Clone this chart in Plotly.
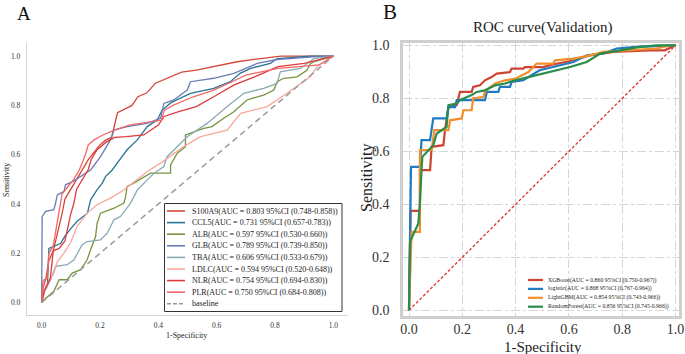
import plotly.graph_objects as go

W, H = 685, 354
SERIF = "Liberation Serif, Times New Roman, serif"

# ---------------- Panel A data ----------------
a_names = ["S100A9(AUC = 0.803 95%CI (0.748-0.858))",
           "CCL5(AUC = 0.731 95%CI (0.657-0.783))",
           "ALB(AUC = 0.597 95%CI (0.530-0.660))",
           "GLB(AUC = 0.789 95%CI (0.739-0.850))",
           "TBA(AUC = 0.606 95%CI (0.533-0.679))",
           "LDLC(AUC = 0.594 95%CI (0.520-0.648))",
           "NLR(AUC = 0.754 95%CI (0.694-0.830))",
           "PLR(AUC = 0.750 95%CI (0.684-0.808))"]
a_colors = ["#d4473a", "#2a7393", "#76943f", "#6a7cb4", "#8aaab3", "#f8a79c", "#e0393e", "#f26767"]

s100a9_fpr = [0, 0.005, 0.015, 0.025, 0.04, 0.05, 0.06, 0.07, 0.08, 0.09, 0.1, 0.12, 0.14, 0.16, 0.18, 0.2, 0.22, 0.24, 0.26, 0.29, 0.31, 0.33, 0.36, 0.39, 0.44, 0.48, 0.53, 0.59, 0.67, 0.75, 0.82, 1]
s100a9_tpr = [0, 0.06, 0.1, 0.17, 0.21, 0.26, 0.3, 0.36, 0.42, 0.44, 0.46, 0.5, 0.54, 0.58, 0.61, 0.64, 0.66, 0.67, 0.77, 0.79, 0.8, 0.835, 0.85, 0.89, 0.915, 0.935, 0.943, 0.957, 0.977, 0.99, 1.0, 1]

ccl5_fpr = [0, 0.01, 0.02, 0.025, 0.065, 0.08, 0.1, 0.122, 0.157, 0.168, 0.19, 0.208, 0.219, 0.242, 0.259, 0.293, 0.328, 0.362, 0.396, 0.413, 0.442, 0.51, 0.59, 0.647, 0.68, 0.716, 0.784, 0.807, 0.92, 1]
ccl5_tpr = [0, 0.05, 0.07, 0.22, 0.24, 0.27, 0.3, 0.33, 0.363, 0.417, 0.457, 0.485, 0.511, 0.538, 0.566, 0.62, 0.66, 0.714, 0.741, 0.78, 0.81, 0.849, 0.869, 0.896, 0.93, 0.95, 0.97, 0.99, 1.0, 1]

alb_fpr = [0, 0.002, 0.042, 0.06, 0.088, 0.105, 0.134, 0.156, 0.168, 0.185, 0.19, 0.202, 0.248, 0.282, 0.288, 0.293, 0.316, 0.373, 0.442, 0.442, 0.465, 0.493, 0.493, 0.556, 0.584, 0.624, 0.659, 0.704, 0.761, 0.796, 0.807, 0.83, 0.876, 0.91, 0.921, 0.94, 1]
alb_tpr = [0, 0.005, 0.046, 0.093, 0.093, 0.12, 0.134, 0.174, 0.215, 0.268, 0.32, 0.363, 0.383, 0.404, 0.43, 0.471, 0.485, 0.525, 0.525, 0.559, 0.606, 0.633, 0.68, 0.707, 0.714, 0.748, 0.774, 0.822, 0.842, 0.862, 0.896, 0.91, 0.916, 0.943, 0.97, 0.98, 1]

glb_fpr = [0, 0.002, 0.014, 0.042, 0.048, 0.054, 0.077, 0.082, 0.105, 0.13, 0.168, 0.202, 0.236, 0.248, 0.293, 0.362, 0.408, 0.419, 0.453, 0.499, 0.51, 0.59, 0.659, 0.739, 0.807, 0.93, 1]
glb_tpr = [0, 0.35, 0.37, 0.377, 0.404, 0.437, 0.451, 0.478, 0.49, 0.51, 0.538, 0.592, 0.66, 0.7, 0.714, 0.727, 0.748, 0.808, 0.822, 0.862, 0.896, 0.91, 0.93, 0.97, 0.986, 0.997, 1]

tba_fpr = [0, 0.008, 0.031, 0.048, 0.088, 0.111, 0.139, 0.156, 0.202, 0.225, 0.248, 0.271, 0.305, 0.328, 0.362, 0.385, 0.419, 0.43, 0.499, 0.567, 0.636, 0.693, 0.761, 0.807, 0.818, 0.887, 0.933, 1]
tba_tpr = [0, 0.04, 0.093, 0.147, 0.154, 0.174, 0.235, 0.248, 0.255, 0.282, 0.336, 0.35, 0.404, 0.457, 0.498, 0.525, 0.552, 0.592, 0.673, 0.727, 0.795, 0.849, 0.869, 0.889, 0.936, 0.95, 0.99, 1]

ldlc_fpr = [0, 0.014, 0.042, 0.054, 0.076, 0.099, 0.122, 0.156, 0.19, 0.236, 0.282, 0.328, 0.362, 0.408, 0.487, 0.545, 0.636, 0.682, 0.773, 0.841, 0.887, 0.921, 0.944, 1]
ldlc_tpr = [0, 0.066, 0.12, 0.167, 0.2, 0.242, 0.309, 0.363, 0.397, 0.424, 0.457, 0.498, 0.532, 0.566, 0.633, 0.673, 0.7, 0.768, 0.795, 0.849, 0.889, 0.916, 0.957, 1]

nlr_fpr = [0, 0.01, 0.03, 0.04, 0.06, 0.08, 0.1, 0.11, 0.12, 0.14, 0.16, 0.17, 0.19, 0.22, 0.25, 0.29, 0.35, 0.4, 0.42, 0.47, 0.53, 0.59, 0.66, 0.73, 0.81, 0.9, 1]
nlr_tpr = [0, 0.05, 0.1, 0.21, 0.22, 0.25, 0.36, 0.4, 0.46, 0.5, 0.54, 0.58, 0.62, 0.65, 0.67, 0.673, 0.68, 0.72, 0.755, 0.775, 0.795, 0.835, 0.883, 0.916, 0.957, 0.97, 1]

plr_fpr = [0, 0.005, 0.02, 0.025, 0.04, 0.05, 0.06, 0.07, 0.09, 0.11, 0.13, 0.15, 0.16, 0.18, 0.21, 0.25, 0.3, 0.36, 0.41, 0.42, 0.45, 0.52, 0.59, 0.66, 0.7, 0.81, 0.95, 1]
plr_tpr = [0, 0.09, 0.1, 0.2, 0.23, 0.3, 0.38, 0.44, 0.47, 0.5, 0.54, 0.6, 0.64, 0.66, 0.68, 0.7, 0.72, 0.73, 0.74, 0.78, 0.8, 0.835, 0.862, 0.9, 0.923, 0.95, 0.964, 1]

a_curves = [(s100a9_fpr, s100a9_tpr), (ccl5_fpr, ccl5_tpr), (alb_fpr, alb_tpr), (glb_fpr, glb_tpr),
            (tba_fpr, tba_tpr), (ldlc_fpr, ldlc_tpr), (nlr_fpr, nlr_tpr), (plr_fpr, plr_tpr)]
baseline_x = [0, 1]
baseline_y = [0, 1]

# ---------------- Panel B data ----------------
b_names = ["XGBoost(AUC = 0.860 95%CI (0.750-0.967))",
           "logistic(AUC = 0.868 95%CI (0.767-0.964))",
           "LightGBM(AUC = 0.854 95%CI (0.743-0.966))",
           "RandomForest(AUC = 0.856 95%CI (0.745-0.966))"]
b_colors = ["#cf4430", "#1f7bc2", "#f0902c", "#2a8c4a"]

xgb_fpr = [0, 0.006, 0.041, 0.041, 0.079, 0.085, 0.129, 0.135, 0.148, 0.179, 0.191, 0.235, 0.241, 0.266, 0.285, 0.31, 0.329, 0.379, 0.385, 0.429, 0.435, 0.504, 0.529, 0.6, 0.679, 0.767, 0.904, 0.96, 1]
xgb_tpr = [0, 0.375, 0.375, 0.529, 0.529, 0.617, 0.623, 0.68, 0.767, 0.774, 0.824, 0.824, 0.843, 0.849, 0.868, 0.88, 0.893, 0.899, 0.912, 0.912, 0.918, 0.918, 0.925, 0.94, 0.962, 0.975, 0.981, 0.981, 1]

log_fpr = [0, 0.0075, 0.041, 0.047, 0.079, 0.091, 0.141, 0.148, 0.173, 0.179, 0.285, 0.292, 0.335, 0.341, 0.379, 0.385, 0.429, 0.45, 0.49, 0.541, 0.617, 0.667, 0.729, 0.779, 0.85, 1]
log_tpr = [0, 0.541, 0.541, 0.642, 0.642, 0.724, 0.724, 0.767, 0.767, 0.793, 0.793, 0.824, 0.824, 0.843, 0.843, 0.862, 0.868, 0.88, 0.906, 0.918, 0.937, 0.962, 0.969, 0.988, 0.994, 1]

lgbm_fpr = [0, 0.01, 0.041, 0.041, 0.085, 0.095, 0.148, 0.154, 0.198, 0.204, 0.235, 0.241, 0.279, 0.285, 0.298, 0.323, 0.36, 0.398, 0.448, 0.479, 0.541, 0.548, 0.617, 0.679, 0.73, 0.829, 0.929, 0.98, 1]
lgbm_tpr = [0, 0.296, 0.296, 0.605, 0.605, 0.68, 0.68, 0.717, 0.724, 0.755, 0.755, 0.8, 0.805, 0.824, 0.837, 0.856, 0.868, 0.874, 0.899, 0.931, 0.931, 0.943, 0.95, 0.962, 0.975, 0.981, 0.988, 1.0, 1]

rf_fpr = [0, 0.004, 0.035, 0.041, 0.047, 0.05, 0.091, 0.104, 0.141, 0.148, 0.179, 0.191, 0.235, 0.254, 0.285, 0.323, 0.36, 0.398, 0.448, 0.529, 0.604, 0.667, 0.717, 0.792, 0.867, 0.929, 1]
rf_tpr = [0, 0.259, 0.328, 0.403, 0.529, 0.579, 0.623, 0.667, 0.692, 0.774, 0.78, 0.793, 0.812, 0.824, 0.83, 0.849, 0.856, 0.868, 0.88, 0.899, 0.918, 0.937, 0.969, 0.981, 0.994, 1.0, 1]

b_curves = [(xgb_fpr, xgb_tpr), (log_fpr, log_tpr), (lgbm_fpr, lgbm_tpr), (rf_fpr, rf_tpr)]

ticks = [0, 0.2, 0.4, 0.6, 0.8, 1.0]
tick_text = ["0.0", "0.2", "0.4", "0.6", "0.8", "1.0"]


def px(x):
    return x / W


def py(y):
    return 1 - y / H


fig = go.Figure()

for (fx, ty), name, col in zip(a_curves, a_names, a_colors):
    fig.add_trace(go.Scatter(x=fx, y=ty, mode="lines", name=name, showlegend=False,
                             line=dict(color=col, width=1.3), xaxis="x", yaxis="y"))
fig.add_trace(go.Scatter(x=baseline_x, y=baseline_y, mode="lines", name="baseline", showlegend=False,
                         line=dict(color="#9a9a9a", width=1.5, dash="6px,4px"), xaxis="x", yaxis="y"))

fig.add_trace(go.Scatter(x=baseline_x, y=baseline_y, mode="lines", showlegend=False,
                         line=dict(color="#e0302c", width=1.3, dash="3px,2px"), xaxis="x2", yaxis="y2"))
for (fx, ty), name, col in zip(b_curves, b_names, b_colors):
    fig.add_trace(go.Scatter(x=fx, y=ty, mode="lines", name=name, showlegend=False,
                             line=dict(color=col, width=2.2), xaxis="x2", yaxis="y2"))

shapes = []
annotations = []

# Legend A (manual, compact rows)
shapes.append(dict(type="rect", xref="paper", yref="paper", x0=px(164.5), x1=px(342), y0=py(311.5), y1=py(203.5),
                   line=dict(color="#333333", width=1), fillcolor="white", layer="above"))
leg_a_names = a_names + ["baseline"]
leg_a_cols = a_colors + ["#9a9a9a"]
for i, (nm, col) in enumerate(zip(leg_a_names, leg_a_cols)):
    yy = 211 + i * 11.6
    shapes.append(dict(type="line", xref="paper", yref="paper", x0=px(167), x1=px(185), y0=py(yy), y1=py(yy),
                       line=dict(color=col, width=1.6, dash="4px,2px" if nm == "baseline" else "solid"),
                       layer="above"))
    annotations.append(dict(text=nm, xref="paper", yref="paper", x=px(190), y=py(yy), xanchor="left",
                            yanchor="middle", showarrow=False, font=dict(family=SERIF, size=8, color="#222")))

# Legend B (manual)
for i, (nm, col) in enumerate(zip(b_names, b_colors)):
    yy = 280 + i * 8.9
    shapes.append(dict(type="line", xref="paper", yref="paper", x0=px(528), x1=px(543), y0=py(yy), y1=py(yy),
                       line=dict(color=col, width=2.2), layer="above"))
    annotations.append(dict(text=nm, xref="paper", yref="paper", x=px(546), y=py(yy), xanchor="left",
                            yanchor="middle", showarrow=False, font=dict(family=SERIF, size=5.8, color="#222")))

# Panel labels and titles
annotations += [
    dict(text="A", xref="paper", yref="paper", x=px(24), y=py(13), xanchor="center", yanchor="middle",
         showarrow=False, font=dict(family=SERIF, size=19, color="#111")),
    dict(text="B", xref="paper", yref="paper", x=px(390), y=py(12), xanchor="center", yanchor="middle",
         showarrow=False, font=dict(family=SERIF, size=21, color="#111")),
    dict(text="ROC curve(Validation)", xref="paper", yref="paper", x=px(543), y=py(27), xanchor="center",
         yanchor="middle", showarrow=False, font=dict(family=SERIF, size=15, color="#222")),
    dict(text="Sensitivity", xref="paper", yref="paper", x=px(6), y=py(180), xanchor="center", yanchor="middle",
         showarrow=False, textangle=-90, font=dict(family=SERIF, size=8, color="#222")),
    dict(text="1-Specificity", xref="paper", yref="paper", x=px(187), y=py(335), xanchor="center",
         yanchor="middle", showarrow=False, font=dict(family=SERIF, size=8, color="#222")),
    dict(text="Sensitivity", xref="paper", yref="paper", x=px(367), y=py(178), xanchor="center", yanchor="middle",
         showarrow=False, textangle=-90, font=dict(family=SERIF, size=16, color="#222")),
    dict(text="1-Specificity", xref="paper", yref="paper", x=px(543), y=py(347), xanchor="center",
         yanchor="middle", showarrow=False, font=dict(family=SERIF, size=15, color="#222")),
]

axis_a = dict(showgrid=False, zeroline=False, showline=True, linecolor="#d4d4d4", linewidth=1.3,
              ticks="", automargin=False, tickvals=ticks, ticktext=tick_text,
              tickfont=dict(family=SERIF, size=7.5, color="#333"))
axis_b = dict(showgrid=True, gridcolor="#d6d6d6", griddash="dashdot", gridwidth=1, zeroline=False,
              showline=True, mirror=True, linecolor="#cfcfcf", linewidth=2.5, ticks="", automargin=False,
              tickvals=ticks, ticktext=tick_text, tickfont=dict(family=SERIF, size=14, color="#333"))

fig.update_layout(
    width=W, height=H, margin=dict(l=0, r=0, t=0, b=0, autoexpand=False),
    paper_bgcolor="white", plot_bgcolor="rgba(0,0,0,0)", showlegend=False,
    shapes=shapes, annotations=annotations,
    xaxis=dict(axis_a, domain=[px(27), px(348)], range=[-0.05, 1.05], ticklabelstandoff=3, anchor="y"),
    yaxis=dict(axis_a, domain=[py(315), py(43)], range=[-0.05, 1.053], ticklabelstandoff=4, anchor="x"),
    xaxis2=dict(axis_b, domain=[px(403), px(679)], range=[-0.0225, 1.013], ticklabelstandoff=-2, anchor="y2"),
    yaxis2=dict(axis_b, domain=[py(316), py(43)], range=[-0.0215, 1.0087], ticklabelstandoff=8, anchor="x2"),
)

fig.write_html("out.html", config={"displayModeBar": False},
               post_script="document.body.style.margin='0';document.body.style.padding='0';")
